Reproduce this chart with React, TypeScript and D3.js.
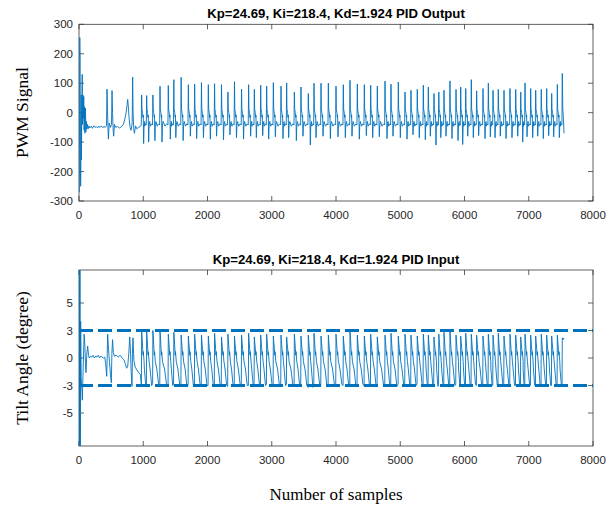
import React from "react";
import * as d3 from "d3";

// ---------- data ----------
const xTicks = [0, 1000, 2000, 3000, 4000, 5000, 6000, 7000, 8000];
const outYTicks = [-300, -200, -100, 0, 100, 200, 300];
const inYTicks = [-6, -3, 0, 3, 6];
const inYTickLabels = ["-5", "-3", "0", "3", "5"];
const limitLevels = [-3, 3];

const outTitle = "Kp=24.69, Ki=218.4, Kd=1.924 PID Output";
const inTitle = "Kp=24.69, Ki=218.4, Kd=1.924 PID Input";

// initial transient, PID output
const outEarlyX = [5, 12, 17, 21, 25, 29, 33, 38, 44, 50, 56, 62, 68, 74, 80, 86, 92, 100, 108, 116, 124, 132, 142, 155, 170, 190, 210, 230, 250, 270, 290, 310, 330, 350, 370, 390, 410, 428, 436, 444, 452, 458, 470, 490, 506, 514, 522, 532, 540, 552, 570, 600, 630, 660, 690, 710, 730, 745, 758, 768, 780, 795, 810, 822, 828, 835, 842, 852, 862, 880, 900, 925, 950];
const outEarlyY = [-270, 255, 180, -120, -250, -200, 60, -160, 30, 130, -40, 60, -20, 55, -60, 20, -70, 15, -65, -30, -55, -40, -55, -45, -52, -46, -53, -45, -50, -47, -52, -46, -50, -45, -51, -47, -50, -44, 80, 10, -60, -90, -35, -50, -40, 75, 0, -60, -80, -40, -50, -47, -52, -48, -40, -25, -5, 20, 45, 20, -20, -50, -60, -45, -30, 121, 0, -55, -70, -45, -55, -50, -48];

// initial transient, tilt angle
const inEarlyX = [5, 10, 15, 20, 26, 34, 45, 52, 65, 80, 90, 100, 109, 122, 135, 148, 160, 180, 200, 220, 240, 260, 280, 300, 320, 340, 360, 380, 400, 415, 431, 440, 446, 460, 475, 490, 503, 512, 522, 535, 550, 580, 610, 640, 670, 700, 720, 740, 757, 775, 790, 800, 812, 825, 832, 840, 855, 875, 900, 930, 955];
const inEarlyY = [12, -12, 12, -12, 4, -2, -3.5, -4.6, -1, 2.6, 1.5, -0.5, -1.6, 0.5, 1.3, 0.3, 0, 0.2, 0.1, 0.3, 0, 0.2, 0.1, 0.3, 0, 0.2, 0.1, 0, 0.1, -0.6, -2.0, 0.5, 2.6, 0.9, -0.5, -1.8, -2.7, 0.5, 2.0, 0.6, 0.2, 0.3, 0.1, 0.3, 0.0, -0.2, -0.6, -1.1, -1.0, 0.5, 2.3, 1.0, -1.5, -3.1, 0.5, 2.2, -0.3, -1.0, -1.3, -1.6, -1.8];

// oscillation cycles: sample of each output spike, with read peaks/troughs
const cycleStart = [975, 1053, 1150, 1261, 1390, 1476, 1590, 1702, 1800, 1906, 2013, 2110, 2218, 2318, 2420, 2530, 2640, 2729, 2828, 2921, 3025, 3144, 3232, 3352, 3455, 3569, 3658, 3767, 3881, 4000, 4114, 4218, 4332, 4441, 4540, 4643, 4763, 4856, 4970, 5074, 5167, 5265, 5359, 5437, 5525, 5600, 5681, 5774, 5868, 5941, 6019, 6106, 6189, 6288, 6371, 6444, 6526, 6615, 6708, 6797, 6875, 6942, 7030, 7108, 7195, 7279, 7357, 7445, 7522];
const outPeak = [60, 58, 60, 90, 92, 112, 120, 95, 97, 102, 95, 98, 95, 70, 105, 80, 95, 79, 93, 90, 102, 90, 101, 70, 87, 65, 100, 100, 100, 90, 95, 110, 97, 95, 93, 90, 107, 97, 104, 70, 76, 79, 93, 87, 65, 70, 76, 108, 79, 87, 82, 112, 74, 82, 100, 76, 79, 76, 82, 79, 70, 101, 82, 76, 79, 82, 65, 96, 133];
const outTrough = [-105, -100, -95, -100, -90, -85, -95, -80, -88, -85, -90, -80, -92, -75, -85, -90, -80, -85, -78, -90, -82, -88, -85, -95, -80, -110, -85, -80, -88, -82, -85, -80, -90, -78, -85, -82, -88, -80, -85, -90, -75, -85, -92, -80, -110, -85, -80, -88, -95, -108, -80, -85, -78, -88, -82, -85, -80, -88, -85, -80, -100, -82, -85, -80, -88, -78, -82, -85, -65];
const inPeak = [3.0, 2.9, 3.0, 3.0, 2.6, 2.8, 2.5, 2.4, 2.6, 2.5, 2.4, 2.7, 2.3, 2.6, 2.4, 2.5, 2.7, 2.3, 2.5, 2.6, 2.4, 2.5, 2.3, 2.6, 2.4, 2.5, 2.7, 2.4, 2.5, 2.6, 2.4, 2.9, 2.5, 2.4, 2.6, 2.3, 2.5, 2.7, 2.4, 2.6, 2.5, 2.4, 2.6, 2.5, 2.3, 2.6, 2.8, 2.9, 2.5, 2.4, 2.7, 2.6, 2.5, 2.4, 2.6, 2.5, 2.7, 2.4, 2.6, 2.5, 2.3, 2.6, 2.5, 2.4, 2.6, 2.5, 2.4, 2.5, 2.2];
const inTrough = [-2.9, -3.0, -2.8, -3.0, -3.0, -2.9, -3.1, -3.0, -2.9, -3.0, -3.0, -2.9, -3.0, -3.1, -2.9, -3.0, -3.0, -2.9, -3.0, -2.9, -3.1, -3.0, -2.9, -3.0, -3.0, -3.2, -2.9, -3.0, -3.0, -2.9, -3.0, -3.0, -2.9, -3.0, -3.0, -2.9, -3.0, -3.1, -2.9, -3.0, -3.0, -2.9, -3.0, -3.0, -3.1, -2.9, -3.0, -3.0, -2.9, -3.1, -3.0, -2.9, -3.0, -3.0, -2.9, -3.0, -3.0, -2.9, -3.0, -3.0, -3.1, -2.9, -3.0, -3.0, -2.9, -3.0, -3.0, -2.9, -3.0];
// final samples after the last spike
const outTailX = [7530, 7540, 7549];
const outTailY = [10, -20, -70];
const inTailX = [7535, 7549];
const inTailY = [2.0, 2.2];

// ---------- series assembly ----------
type P = [number, number];

function buildOutput(): P[] {
  const pts: P[] = outEarlyX.map((x, i) => [x, outEarlyY[i]] as P);
  cycleStart.forEach((s, i) => {
    pts.push([s - 6, -42], [s, outPeak[i]]);
    if (i + 1 < cycleStart.length) {
      const p = cycleStart[i + 1] - s;
      pts.push([s + 5, 12], [s + 14, 0], [s + 21, -16], [s + 25, -8], [s + 31, outTrough[i]],
        [s + 38, -42], [s + 48, -30], [s + 0.6 * p, -46], [s + 0.8 * p, -38]);
    }
  });
  outTailX.forEach((x, i) => pts.push([x, outTailY[i]]));
  return pts;
}

function buildInput(): P[] {
  const pts: P[] = inEarlyX.map((x, i) => [x, inEarlyY[i]] as P);
  cycleStart.forEach((s, i) => {
    pts.push([s - 4, inTrough[i]], [s, inPeak[i]]);
    if (i + 1 < cycleStart.length) {
      const p = cycleStart[i + 1] - s;
      pts.push([s + 6, inPeak[i] - 0.6], [s + 16, 1.0], [s + 22, 0.3], [s + 26, 0.7], [s + 38, -0.4],
        [s + 0.55 * p, -1.2], [s + 0.8 * p, inTrough[i]]);
    }
  });
  inTailX.forEach((x, i) => pts.push([x, inTailY[i]]));
  return pts;
}

// ---------- layout ----------
const W = 613, H = 509;
const L = 79, R = 593;
const top1 = 24.3, bot1 = 201;
const top2 = 270, bot2 = 446;
const BLUE = "#0072BD";
const AX = "#3a3a3a";
const TXT = "#262626";
const SANS = "Arial, 'Liberation Sans', Helvetica, sans-serif";
const SERIF = "'Times New Roman', 'Liberation Serif', serif";

function Axes({ y, top, bot, ticks, labels }: { y: d3.ScaleLinear<number, number>; top: number; bot: number; ticks: number[]; labels: string[] }) {
  const x = d3.scaleLinear().domain([0, 8000]).range([L, R]);
  const tl = 5;
  return (
    <g>
      <rect x={L} y={top} width={R - L} height={bot - top} fill="none" stroke={AX} strokeWidth={0.8} />
      {xTicks.map((t) => (
        <g key={"x" + t}>
          <line x1={x(t)} x2={x(t)} y1={bot} y2={bot - tl} stroke={AX} strokeWidth={0.8} />
          <line x1={x(t)} x2={x(t)} y1={top} y2={top + tl} stroke={AX} strokeWidth={0.8} />
          <text x={x(t)} y={bot + 18} textAnchor="middle" fontSize={11.5} fontFamily={SANS} fill={TXT}>{t}</text>
        </g>
      ))}
      {ticks.map((t, i) => (
        <g key={"y" + t}>
          <line x1={L} x2={L + tl} y1={y(t)} y2={y(t)} stroke={AX} strokeWidth={0.8} />
          <line x1={R} x2={R - tl} y1={y(t)} y2={y(t)} stroke={AX} strokeWidth={0.8} />
          <text x={L - 6} y={y(t)} dy="0.36em" textAnchor="end" fontSize={11.5} fontFamily={SANS} fill={TXT}>{labels[i]}</text>
        </g>
      ))}
    </g>
  );
}

export default function App() {
  const x = d3.scaleLinear().domain([0, 8000]).range([L, R]);
  const yOut = d3.scaleLinear().domain([-300, 300]).range([bot1, top1]);
  const yIn = d3.scaleLinear().domain([-9.6, 9.6]).range([bot2, top2]);
  const outLine = d3.line<P>().x((d) => x(d[0])).y((d) => yOut(d[1]));
  const inLine = d3.line<P>().x((d) => x(d[0])).y((d) => yIn(d[1]));
  const outData = buildOutput();
  const inData = buildInput();

  return (
    <svg width={W} height={H} style={{ position: "absolute", left: 0, top: 0, background: "#fff" }}>
      <defs>
        <clipPath id="c1"><rect x={L} y={top1} width={R - L} height={bot1 - top1} /></clipPath>
        <clipPath id="c2"><rect x={L} y={top2} width={R - L} height={bot2 - top2} /></clipPath>
      </defs>
      <rect x={0} y={0} width={W} height={H} fill="#fff" />

      {/* top: PID output */}
      <Axes y={yOut} top={top1} bot={bot1} ticks={outYTicks} labels={outYTicks.map(String)} />
      <path d={outLine(outData) || ""} fill="none" stroke={BLUE} strokeWidth={0.9} clipPath="url(#c1)" />
      <text x={(L + R) / 2} y={18} textAnchor="middle" fontSize={13.2} fontWeight="bold" fontFamily={SANS} fill="#000">{outTitle}</text>
      <text transform={`translate(28,${(top1 + bot1) / 2}) rotate(-90)`} textAnchor="middle" fontSize={17.5} fontFamily={SERIF} fill="#000">PWM Signal</text>

      {/* bottom: PID input */}
      <Axes y={yIn} top={top2} bot={bot2} ticks={inYTicks} labels={inYTickLabels} />
      <path d={inLine(inData) || ""} fill="none" stroke={BLUE} strokeWidth={0.9} clipPath="url(#c2)" />
      {limitLevels.map((v) => (
        <line key={v} x1={L} x2={R} y1={yIn(v)} y2={yIn(v)} stroke={BLUE} strokeWidth={3} strokeDasharray="14 5" />
      ))}
      <text x={(L + R) / 2} y={264} textAnchor="middle" fontSize={13.2} fontWeight="bold" fontFamily={SANS} fill="#000">{inTitle}</text>
      <text transform={`translate(28,${(top2 + bot2) / 2}) rotate(-90)`} textAnchor="middle" fontSize={17.5} fontFamily={SERIF} fill="#000">Tilt Angle (degree)</text>

      <text x={(L + R) / 2} y={500} textAnchor="middle" fontSize={17} fontFamily={SERIF} fill="#000">Number of samples</text>
    </svg>
  );
}
